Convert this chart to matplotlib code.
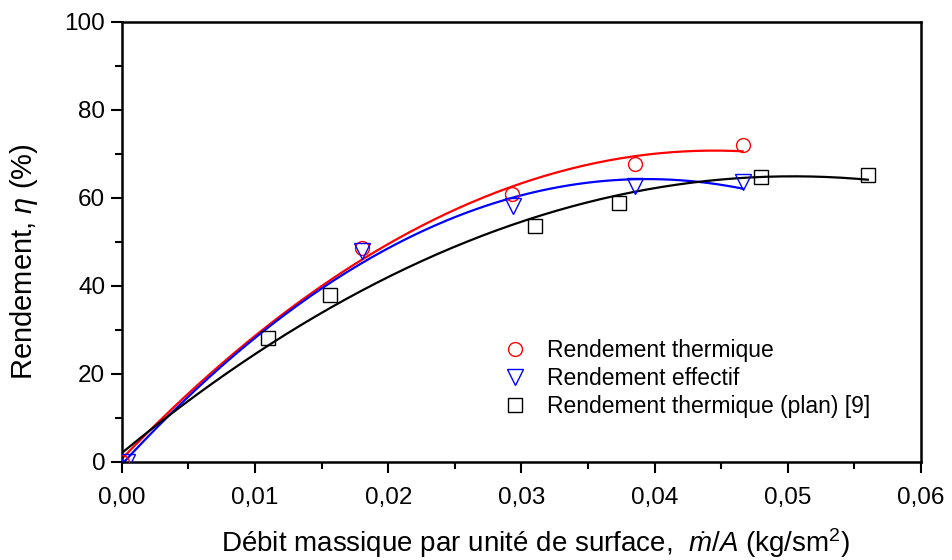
import matplotlib
matplotlib.use("Agg")
import matplotlib.pyplot as plt
import numpy as np
from matplotlib.ticker import FuncFormatter, MultipleLocator

plt.rcParams["font.family"] = ["Liberation Sans", "DejaVu Sans"]
plt.rcParams["mathtext.fontset"] = "custom"
plt.rcParams["mathtext.it"] = "Liberation Sans:italic"
plt.rcParams["mathtext.rm"] = "Liberation Sans"

# mass flow per unit area (kg/s m2) and efficiency (%)
x_thermal = [0.0, 0.0180, 0.0293, 0.0385, 0.0466]
y_thermal = [0.0, 48.6, 60.9, 67.8, 72.0]

x_effective = [0.0004, 0.0180, 0.0294, 0.0385, 0.0466]
y_effective = [0.0, 48.0, 58.2, 62.7, 63.5]

x_flat = [0.0110, 0.0156, 0.0310, 0.0373, 0.0480, 0.0560]
y_flat = [28.1, 38.0, 53.7, 58.8, 64.8, 65.2]

# (x, y, colour, marker, size, label, fit anchored at origin)
series = [
    (x_thermal, y_thermal, "#ff0000", "o", 10, "Rendement thermique", False),
    (x_effective, y_effective, "#0000ff", "v", 11, "Rendement effectif", False),
    (x_flat, y_flat, "#000000", "s", 10, "Rendement thermique (plan) [9]", True),
]

fig = plt.figure(figsize=(9.52, 5.6), dpi=100)
ax = fig.add_axes([0.128, 0.175, 0.8395, 0.786])

for xs, ys, color, marker, size, label, anchor in series:
    xs = np.asarray(xs)
    ys = np.asarray(ys)
    xfit, yfit = (np.r_[0.0, xs], np.r_[0.0, ys]) if anchor else (xs, ys)
    # quadratic trend line from zero to the last measurement
    coef = np.polyfit(xfit, yfit, 2)
    xf = np.linspace(0, xs.max(), 200)
    ax.plot(xf, np.polyval(coef, xf), color=color, lw=1.6, zorder=2)
    ax.plot(xs, ys, ls="none", marker=marker, ms=size, mfc="none", mec=color,
            mew=1.0, label=label, zorder=3)

ax.set_xlim(0, 0.06)
ax.set_ylim(0, 100)
ax.xaxis.set_major_locator(MultipleLocator(0.01))
ax.xaxis.set_minor_locator(MultipleLocator(0.005))
ax.yaxis.set_major_locator(MultipleLocator(20))
ax.yaxis.set_minor_locator(MultipleLocator(10))
ax.xaxis.set_major_formatter(FuncFormatter(lambda v, p: f"{v:.2f}".replace(".", ",")))
ax.yaxis.set_major_formatter(FuncFormatter(lambda v, p: f"{v:.0f}"))

ax.tick_params(which="both", direction="out", width=1.5, labelsize=17.5, top=False, right=False)
ax.tick_params(which="major", length=8)
ax.tick_params(which="minor", length=5)
ax.tick_params(axis="x", pad=10)
ax.tick_params(axis="y", pad=4)
for sp in ax.spines.values():
    sp.set_linewidth(1.8)

ax.set_xlabel(r"Débit massique par unité de surface,  $\dot{m}/A$ (kg/sm$^2$)", fontsize=20)
ax.xaxis.set_label_coords(0.518, -0.145)
ax.set_ylabel(r"Rendement, $\eta$ (%)", fontsize=21)
ax.yaxis.set_label_coords(-0.102, 0.455)

ax.legend(loc="upper left", bbox_to_anchor=(0.46, 0.30), frameon=False, fontsize=16.5,
          handletextpad=0.7, labelspacing=0.22, handlelength=1.4, borderaxespad=0)

fig.savefig("out.png", dpi=100)
